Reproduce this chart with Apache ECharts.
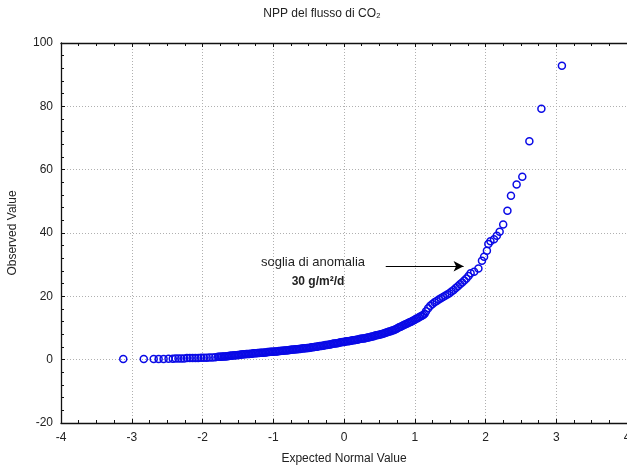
<!DOCTYPE html>
<html>
<head>
<meta charset="utf-8">
<script src="https://cdn.jsdelivr.net/npm/echarts@6/dist/echarts.min.js"></script>
<style>
html,body{margin:0;padding:0;background:#fff;overflow:hidden;}
#chart{width:627px;height:470px;}
</style>
</head>
<body>
<div id="chart"></div>
<script>
// Expected normal values (x)
const expected = [
 -3.12,-2.83,-2.69,-2.62,-2.55,-2.48,-2.42,
 -2.38,-2.34,-2.30,-2.26,-2.22,-2.18,-2.14,-2.10,-2.06,-2.02,-1.98,-1.94,-1.90,-1.86,-1.82,
 -1.78,-1.76,-1.74,-1.72,-1.70,-1.68,-1.66,-1.64,-1.62,-1.60,-1.58,-1.56,-1.54,-1.52,-1.50,-1.48,
 -1.46,-1.44,-1.42,-1.40,-1.38,-1.36,-1.34,-1.32,-1.30,-1.28,-1.26,-1.24,-1.22,-1.20,-1.18,-1.16,
 -1.14,-1.12,-1.10,-1.08,-1.06,-1.04,-1.02,-1.00,-0.98,-0.96,-0.94,-0.92,-0.90,-0.88,-0.86,-0.84,
 -0.82,-0.80,-0.78,-0.76,-0.74,-0.72,-0.70,-0.68,-0.66,-0.64,-0.62,-0.60,-0.58,-0.56,-0.54,-0.52,
 -0.50,-0.48,-0.46,-0.44,-0.42,-0.40,-0.38,-0.36,-0.34,-0.32,-0.30,-0.28,-0.26,-0.24,-0.22,-0.20,
 -0.18,-0.16,-0.14,-0.12,-0.10,-0.08,-0.06,-0.04,-0.02,0.00,0.02,0.04,0.06,0.08,0.10,0.12,
 0.14,0.16,0.18,0.20,0.22,0.24,0.26,0.28,0.30,0.32,0.34,0.36,0.38,0.40,0.42,0.44,
 0.46,0.48,0.50,0.52,0.54,0.56,0.58,0.60,0.62,0.64,0.66,0.68,0.70,0.72,0.74,0.76,
 0.78,0.80,0.82,0.84,0.86,0.88,0.90,0.92,0.94,0.96,0.98,1.00,1.02,1.04,1.06,1.08,1.10,1.12,
 1.14,1.16,1.19,1.22,1.25,1.28,1.31,1.34,1.37,1.40,1.43,1.46,
 1.49,1.52,1.55,1.58,1.61,1.64,1.67,1.70,1.73,1.76,1.79,1.84,1.90,1.95,1.98,2.02,2.04,2.07,
 2.12,2.16,2.20,2.25,2.31,2.36,2.44,2.52,2.62,2.79,3.08
];
const observed = [
 0.2,0.2,0.2,0.2,0.2,0.3,0.3,
 0.4,0.4,0.4,0.4,0.5,0.5,0.5,0.5,0.5,0.6,0.6,0.6,0.7,0.7,0.8,
 0.9,0.9,0.9,1.0,1.0,1.0,1.1,1.1,1.2,1.2,1.3,1.3,1.4,1.4,1.5,1.5,
 1.6,1.6,1.7,1.7,1.8,1.8,1.8,1.9,1.9,2.0,2.0,2.0,2.1,2.1,2.2,2.2,
 2.2,2.3,2.3,2.4,2.4,2.5,2.5,2.5,2.6,2.6,2.6,2.7,2.7,2.8,2.8,2.9,
 2.9,3.0,3.0,3.1,3.1,3.2,3.2,3.3,3.3,3.4,3.4,3.5,3.5,3.6,3.6,3.7,
 3.7,3.8,3.9,3.9,4.0,4.1,4.1,4.2,4.3,4.3,4.4,4.5,4.6,4.6,4.7,4.8,
 4.9,5.0,5.1,5.1,5.2,5.3,5.4,5.5,5.6,5.6,5.7,5.8,5.8,5.9,6.0,6.1,
 6.1,6.2,6.3,6.4,6.5,6.6,6.7,6.7,6.8,6.9,7.0,7.1,7.2,7.3,7.4,7.6,
 7.7,7.8,7.9,8.0,8.1,8.3,8.4,8.6,8.7,8.9,9.0,9.2,9.3,9.5,9.7,10.0,
 10.2,10.4,10.6,10.9,11.1,11.3,11.5,11.7,11.9,12.1,12.4,12.6,12.9,13.1,13.4,13.6,13.9,14.1,
 14.5,15.3,16.2,17.0,17.6,18.1,18.5,19.0,19.4,19.8,20.2,20.6,
 21.0,21.5,22.0,22.6,23.2,23.8,24.4,25.0,25.6,26.4,27.3,27.8,28.8,31.2,32.5,34.4,36.5,37.4,
 38.0,39.1,40.4,42.7,47.0,51.8,55.3,57.8,69.0,79.2,92.8
];
const xTicks = { min: -4, max: 4, interval: 1 };
const yTicks = { min: -20, max: 100, interval: 20 };
const titleText = 'NPP del flusso di CO\u2082';
const xName = 'Expected Normal Value';
const yName = 'Observed Value';
const noteLine1 = 'soglia di anomalia';
const noteLine2 = '30 g/m\u00B2/d';
const arrowFrom = [0.59, 29.5];
const arrowTo = [1.69, 29.5];

const FONT = '"Liberation Sans", Arial, sans-serif';
const chart = echarts.init(document.getElementById('chart'), null, {renderer: 'canvas'});
const grid = {left: 61, right: 0, top: 43, bottom: 47, containLabel: false, outerBoundsMode: 'none'};
const baseX = {
  type: 'value', min: xTicks.min, max: xTicks.max, interval: xTicks.interval,
  axisLine: {show: true, onZero: false, lineStyle: {color: '#111', width: 1.3}},
  axisTick: {show: true, inside: true, length: 4, lineStyle: {color: '#111'}},
  minorTick: {show: true, splitNumber: 4, length: 3, lineStyle: {color: '#111'}},
};
const option = {
  backgroundColor: '#fff',
  animation: false,
  grid: grid,
  xAxis: [
    Object.assign({}, baseX, {
      position: 'bottom',
      name: xName, nameLocation: 'middle', nameGap: 30,
      nameTextStyle: {fontFamily: FONT, fontSize: 12, color: '#222'},
      axisLabel: {fontFamily: FONT, fontSize: 12, color: '#222', margin: 9},
      splitLine: {show: true, lineStyle: {color: '#b0b0b0', type: [1, 2], width: 1}},
    }),
    Object.assign({}, baseX, {
      position: 'top',
      axisLabel: {show: false},
      splitLine: {show: false},
    })
  ],
  yAxis: {
    type: 'value', min: yTicks.min, max: yTicks.max, interval: yTicks.interval,
    name: yName, nameLocation: 'middle', nameGap: 42,
    nameTextStyle: {fontFamily: FONT, fontSize: 12, color: '#222'},
    axisLine: {show: true, onZero: false, lineStyle: {color: '#111', width: 1.3}},
    axisTick: {show: true, inside: true, length: 4, lineStyle: {color: '#111'}},
    minorTick: {show: true, splitNumber: 5, length: 3, lineStyle: {color: '#111'}},
    axisLabel: {fontFamily: FONT, fontSize: 12, color: '#222', margin: 8},
    splitLine: {show: true, lineStyle: {color: '#b0b0b0', type: [1, 2], width: 1}},
  },
  series: [{
    type: 'scatter',
    xAxisIndex: 0,
    data: expected.map((x, i) => [x, observed[i]]),
    symbol: 'circle',
    symbolSize: 7,
    itemStyle: {color: 'rgba(0,0,0,0)', borderColor: '#0a0ae6', borderWidth: 1.5, opacity: 1},
    emphasis: {disabled: true},
    markLine: {
      silent: true,
      symbol: ['none', 'arrow'],
      symbolSize: [8, 10],
      label: {show: false},
      lineStyle: {color: '#000', type: 'solid', width: 1.2},
      data: [[{coord: arrowFrom}, {coord: arrowTo}]]
    }
  }],
  graphic: [
    {type: 'text', x: 322, y: 8, style: {text: titleText, font: '12px ' + FONT, fill: '#222', textAlign: 'center'}},
    {type: 'text', x: 313, y: 256, style: {text: noteLine1, font: '13px ' + FONT, fill: '#222', textAlign: 'center'}},
    {type: 'text', x: 318, y: 276, style: {text: noteLine2, font: 'bold 12px ' + FONT, fill: '#222', textAlign: 'center'}}
  ]
};
chart.setOption(option);
</script>
</body>
</html>
